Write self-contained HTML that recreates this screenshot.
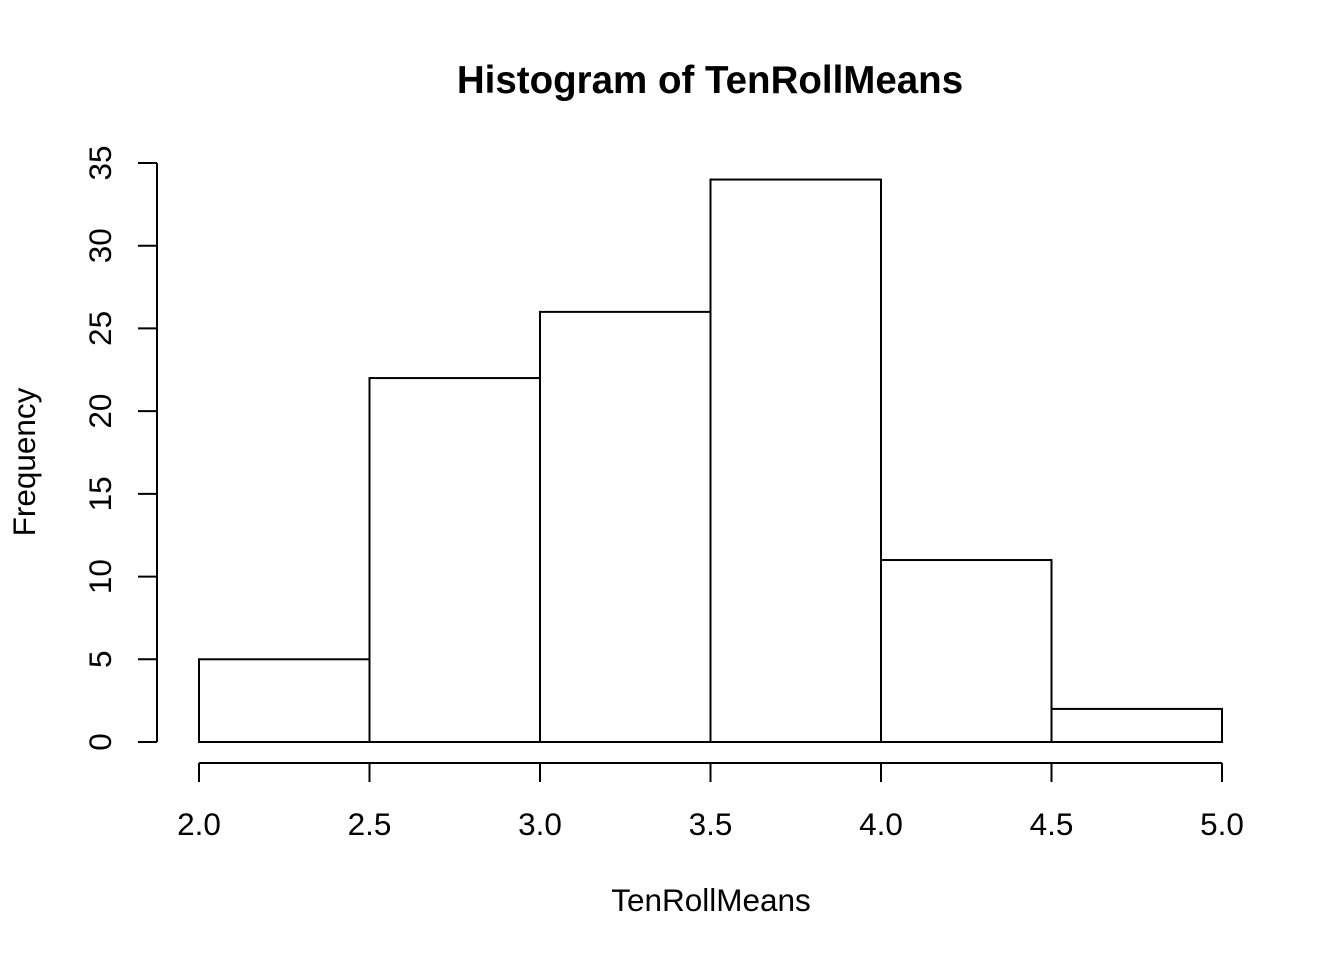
<!DOCTYPE html>
<html><head><meta charset="utf-8"><style>
body{margin:0;background:#fff;}
svg{display:block;font-family:"Liberation Sans",Arial,sans-serif;}
</style></head><body>
<svg id="chart" width="1344" height="960">
<text x="710" y="93" text-anchor="middle" font-size="38.5" font-weight="bold">Histogram of TenRollMeans</text>
<text x="711" y="911" text-anchor="middle" font-size="31.5">TenRollMeans</text>
<text transform="translate(35,462) rotate(-90)" text-anchor="middle" font-size="31.5">Frequency</text>
<g id="bars"></g><g id="xaxis"></g><g id="yaxis"></g>
</svg>
<script>
const breaks = [2.0, 2.5, 3.0, 3.5, 4.0, 4.5, 5.0];
const counts = [5, 22, 26, 34, 11, 2];
const xTicks = ["2.0","2.5","3.0","3.5","4.0","4.5","5.0"];
const yTicks = [0,5,10,15,20,25,30,35];
const NS="http://www.w3.org/2000/svg";
function xs(v){return 199+(v-2.0)/3.0*(1222-199);}
function ys(v){return 742-v*(742-163)/35;}
function mk(t,a,p){const e=document.createElementNS(NS,t);for(const k in a)e.setAttribute(k,a[k]);p.appendChild(e);return e;}
const bars=document.getElementById('bars');
counts.forEach((c,i)=>{
  const r=mk('rect',{x:xs(breaks[i]),y:ys(c),width:xs(breaks[i+1])-xs(breaks[i]),height:ys(0)-ys(c),fill:'#fff',stroke:'#000','stroke-width':2},bars);
  
  
});
const xa=document.getElementById('xaxis');
mk('line',{x1:xs(breaks[0]),x2:xs(breaks[breaks.length-1]),y1:763,y2:763,stroke:'#000','stroke-width':2},xa);
xTicks.forEach((t,i)=>{
  const v=parseFloat(t);
  mk('line',{x1:xs(v),x2:xs(v),y1:763,y2:782,stroke:'#000','stroke-width':2},xa);
  const e=mk('text',{x:xs(v),y:835,'text-anchor':'middle','font-size':31.5},xa);e.textContent=t;
  
  
});
const ya=document.getElementById('yaxis');
mk('line',{x1:157,x2:157,y1:ys(yTicks[0]),y2:ys(yTicks[yTicks.length-1]),stroke:'#000','stroke-width':2},ya);
yTicks.forEach(v=>{
  mk('line',{x1:138,x2:157,y1:ys(v),y2:ys(v),stroke:'#000','stroke-width':2},ya);
  const e=mk('text',{transform:`translate(111,${ys(v)}) rotate(-90)`,'text-anchor':'middle','font-size':31.5},ya);e.textContent=v;
  
  
});
</script>
</body></html>
